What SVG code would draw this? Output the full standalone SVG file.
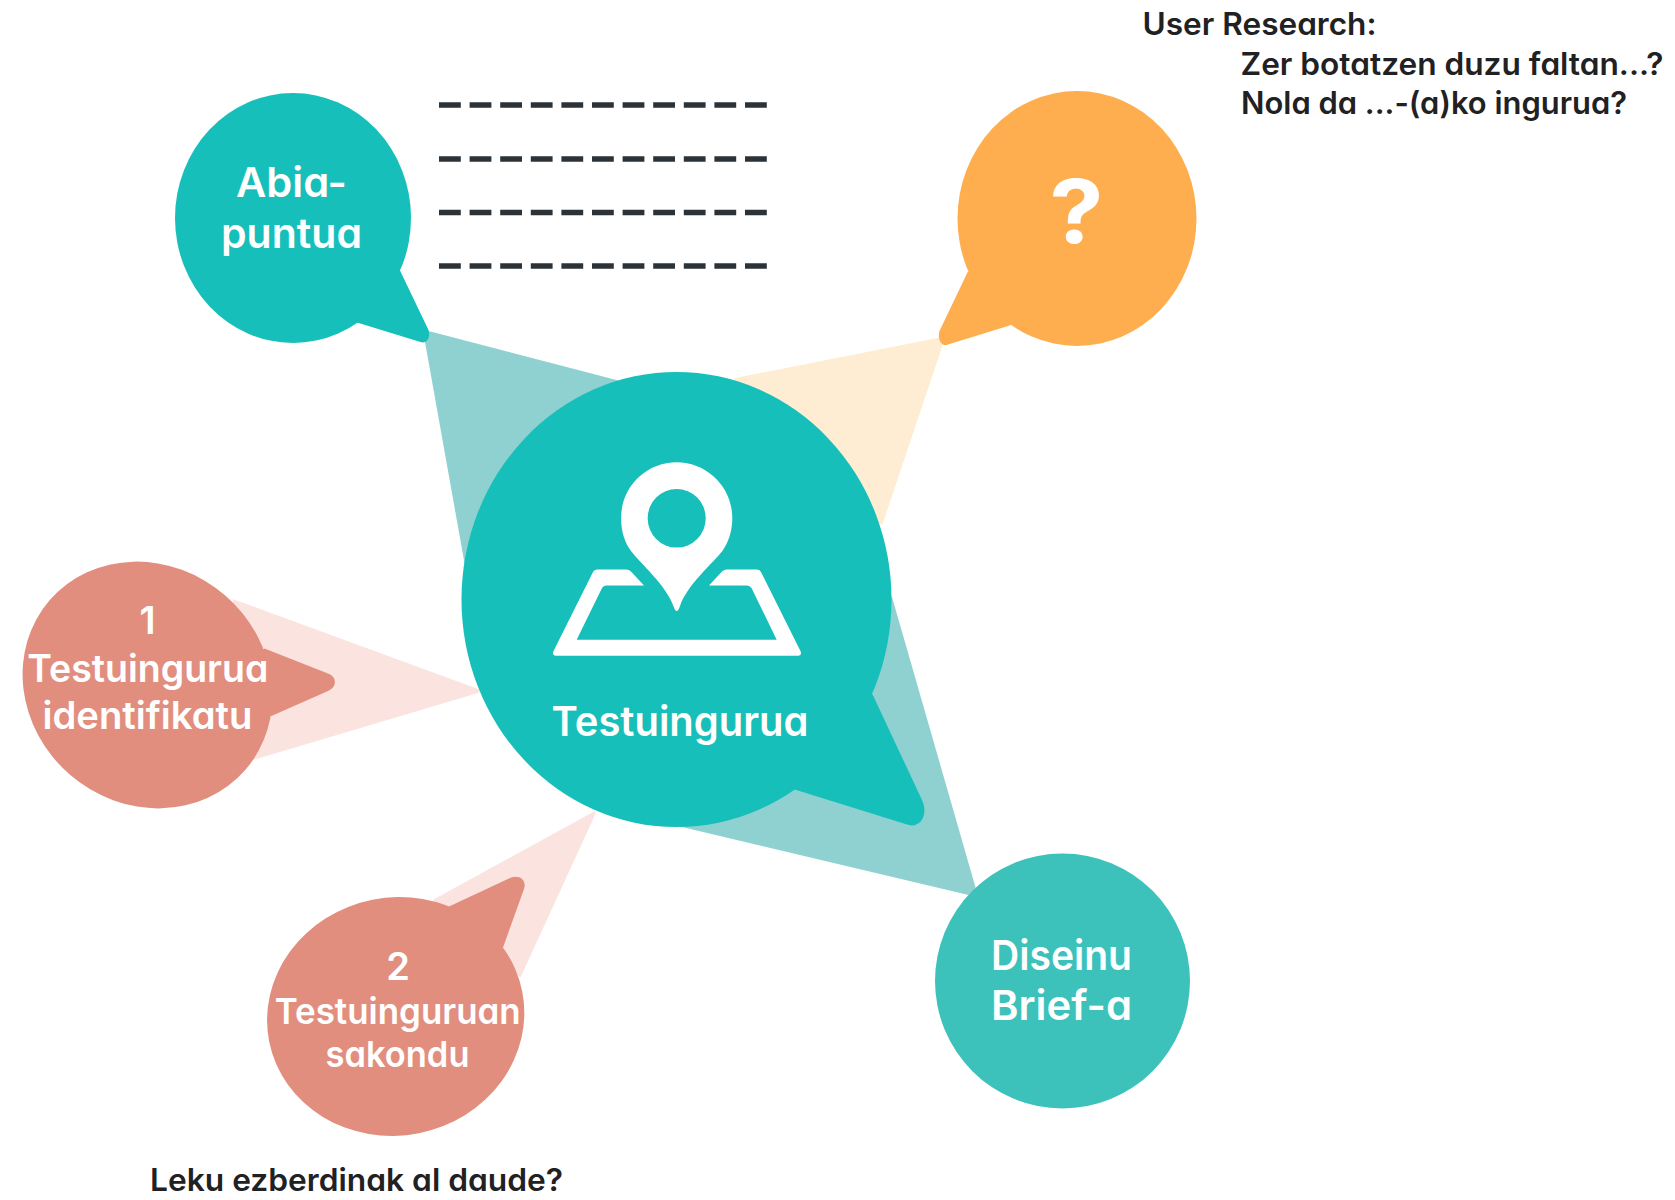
<svg xmlns="http://www.w3.org/2000/svg" width="1675" height="1200" viewBox="0 0 1675 1200">
<style>
text{font-family:Inter,"Noto Sans","Liberation Sans",sans-serif;font-feature-settings:"cv11" 1;font-weight:600;text-anchor:middle}
.w{fill:#fff}
.k{fill:#1f2123;font-weight:600;text-anchor:start;font-size:31px}
.t40{font-size:41px}.t38{font-size:38px}.t35{font-size:36px}
.main{fill:#17bfba}.org{fill:#ffae4f}.sal{fill:#e28e7f}.dis{fill:#3cc2bb}
.dash{stroke:#2b3338;stroke-width:5.5;stroke-dasharray:21.8 8.8;fill:none}
</style>
<rect width="1675" height="1200" fill="#fff"/>
<g id="connectors">
<polygon fill="#8fd1d1" points="428.500,331 676,395.600 892,597 975.700,888 968.600,895 682,827 465,566 425,342"/>
<polygon fill="#feedd3" points="940,337.500 735,378 676,500 882.600,524 943,344"/>
<polygon fill="#fbe4df" points="232.600,599 479.600,689.400 479.600,692.400 253,760"/>
<polygon fill="#fbe4df" points="432.700,900 594,811.500 596,812.700 520.400,977.700"/>
</g>
<g id="node-abiapuntua">
<ellipse class="main" cx="293" cy="218" rx="118" ry="125"/>
<path class="main" d="M400,270.600L428.500,330C431,338 426,344 420.500,342L357,322.600L300,250Z"/>
<text class="w t40" x="291.500" y="197" textLength="111" lengthAdjust="spacingAndGlyphs">Abia-</text>
<text class="w t40" x="291.500" y="248" textLength="141" lengthAdjust="spacingAndGlyphs">puntua</text>
</g>
<g id="dashes">
<path class="dash" d="M439,105H768M439,159H768M439,212.400H768M439,266H768"/>
</g>
<g id="node-question">
<ellipse class="org" cx="1077" cy="218.500" rx="119.500" ry="127.500"/>
<path class="org" d="M967.800,271.700L939.500,331C937,340 942,347 948,344.500L1010.400,325.300L1070,250Z"/>
<text class="w" x="1076.500" y="243" style="font-size:88px;font-weight:700" textLength="54" lengthAdjust="spacingAndGlyphs">?</text>
</g>
<g id="node-main">
<ellipse class="main" cx="676.500" cy="599.500" rx="215" ry="227.500"/>
<path class="main" d="M872.600,694.500L922,800C929,815 920,829 907,824.600L794.600,789.500L680,650Z"/>
<g fill="#fff">
<path fill-rule="evenodd" d="M676.700,462.300C707,462.300 732.300,487 732.300,518C732.300,532 728,543 722.400,551C713,563 687,585 680,606Q676.700,616 673.400,606C666,585 640,563 631,551C625,543 621.100,532 621.100,518C621.100,487 646,462.300 676.700,462.300ZM676.700,489A29,29.300 0 1 0 676.701,547.600A29,29.300 0 1 0 676.700,489Z"/>
<path d="M593,572Q594,569.400 597,569.400H626Q629,569.400 631,571.500L644,585.400H606Q603.300,585.400 602,588L576.700,639.700H776.700L751.500,588Q750,585.400 747,585.400H709L722,571.500Q724,569.400 727,569.400H757Q760,569.400 761,572L800.700,651.500Q802,655.700 798,655.700H556Q552,655.700 553.300,651.500Z"/>
</g>
<text class="w t40" x="680" y="735.500" textLength="257" lengthAdjust="spacingAndGlyphs">Testuingurua</text>
</g>
<g id="node-1">
<ellipse class="sal" cx="147.500" cy="685" rx="129.500" ry="118.600" transform="rotate(41 147.500 685)"/>
<path class="sal" d="M264.500,648.600L328.600,673.800C337,677 337,687 328.600,690.700L271.400,716L200,690Z"/>
<text class="w t38" x="147.500" y="634">1</text>
<text class="w t38" x="147.800" y="681.500" textLength="241" lengthAdjust="spacingAndGlyphs">Testuingurua</text>
<text class="w t38" x="147.500" y="728.500" textLength="210" lengthAdjust="spacingAndGlyphs">identifikatu</text>
</g>
<g id="node-2">
<ellipse class="sal" cx="395.700" cy="1016.500" rx="129" ry="119" transform="rotate(-11.300 395.700 1016.500)"/>
<path class="sal" d="M449,906.600L510,878C519,874 527,880 524,889L503,947.400L430,980Z"/>
<text class="w t38" x="398" y="979.500">2</text>
<text class="w t35" x="397.700" y="1023.500" textLength="246" lengthAdjust="spacingAndGlyphs">Testuinguruan</text>
<text class="w t35" x="397.500" y="1066.500" textLength="144" lengthAdjust="spacingAndGlyphs">sakondu</text>
</g>
<g id="node-diseinu">
<circle class="dis" cx="1062.500" cy="981" r="127.500"/>
<text class="w t40" x="1061.500" y="969.500" textLength="141" lengthAdjust="spacingAndGlyphs">Diseinu</text>
<text class="w t40" x="1061.500" y="1019.500" textLength="141" lengthAdjust="spacingAndGlyphs">Brief-a</text>
</g>
<g id="notes">
<text class="k" x="1142.500" y="35" textLength="234" lengthAdjust="spacingAndGlyphs">User Research:</text>
<text class="k" x="1240.500" y="74.600" textLength="423" lengthAdjust="spacingAndGlyphs">Zer botatzen duzu faltan...?</text>
<text class="k" x="1241" y="113.700" textLength="386" lengthAdjust="spacingAndGlyphs">Nola da ...-(a)ko ingurua?</text>
<text class="k" x="150" y="1191" textLength="413" lengthAdjust="spacingAndGlyphs">Leku ezberdinak al daude?</text>
</g>
</svg>
